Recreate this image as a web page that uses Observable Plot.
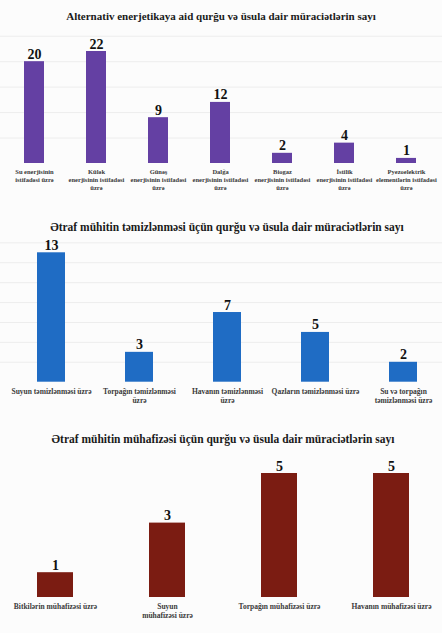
<!DOCTYPE html>
<html><head><meta charset="utf-8">
<script src="https://cdn.jsdelivr.net/npm/d3@7"></script>
<script src="https://cdn.jsdelivr.net/npm/@observablehq/plot@0.6"></script>
<style>
body{margin:0;background:#fff;}
#root{position:relative;width:442px;height:633px;overflow:hidden;font-family:"Times New Roman","Liberation Serif","DejaVu Serif",serif;background:#fcfcfc;}
.title{position:absolute;left:0;width:442px;text-align:center;font-weight:bold;color:#1a1a1a;white-space:nowrap;line-height:1;}
.chart{position:absolute;left:0;}
</style></head><body><div id="root"></div>
<script>
// Chart 1 data
const energyTitle = "Alternativ enerjetikaya aid  qurğu və üsula dair müraciətlərin sayı";
const energyCats = ["Su", "Külək", "Günəş", "Dalğa", "Biogaz", "İstilik", "Pyezoelektrik"];
const energyValues = [20, 22, 9, 12, 2, 4, 1];
const energyTicks = [
  "Su enerjisinin\nistifadəsi üzrə",
  "Külək\nenerjisinin istifadəsi\nüzrə",
  "Günəş\nenerjisinin istifadəsi\nüzrə",
  "Dalğa\nenerjisinin istifadəsi\nüzrə",
  "Biogaz\nenerjisinin istifadəsi\nüzrə",
  "İstilik\nenerjisinin istifadəsi\nüzrə",
  "Pyezoelektrik\nelementlərin istifadəsi\nüzrə"
];
// Chart 2 data
const cleanTitle = "Ətraf mühitin təmizlənməsi üçün qurğu və üsula dair müraciətlərin sayı";
const cleanCats = ["Suyun", "Torpağın", "Havanın", "Qazların", "Su və torpağın"];
const cleanValues = [13, 3, 7, 5, 2];
const cleanTicks = [
  "Suyun təmizlənməsi üzrə",
  "Torpağın təmizlənməsi\nüzrə",
  "Havanın təmizlənməsi\nüzrə",
  "Qazların təmizlənməsi üzrə",
  "Su və torpağın\ntəmizlənməsi üzrə"
];
// Chart 3 data
const protectTitle = "Ətraf mühitin mühafizəsi üçün qurğu və üsula dair müraciətlərin sayı";
const protectCats = ["Bitkilərin", "Suyun", "Torpağın", "Havanın"];
const protectValues = [1, 3, 5, 5];
const protectTicks = [
  "Bitkilərin mühafizəsi üzrə",
  "Suyun\nmühafizəsi üzrə",
  "Torpağın mühafizəsi üzrə",
  "Havanın mühafizəsi üzrə"
];

const FONT = "'Times New Roman', 'Liberation Serif', 'DejaVu Serif', serif";
const root = document.getElementById("root");

function addTitle(text, top, size, shift) {
  const d = document.createElement("div");
  d.className = "title";
  d.style.top = top + "px";
  d.style.left = (shift || 0) + "px";
  d.style.fontSize = size + "px";
  d.textContent = text;
  root.appendChild(d);
}

function addChart(o) {
  const data = o.cats.map((c, i) => ({cat: c, value: o.values[i], tick: o.ticks[i]}));
  const svg = Plot.plot({
    width: 442,
    height: o.height,
    margin: 0,
    style: {fontFamily: FONT, background: "transparent", overflow: "visible"},
    x: {domain: o.cats, range: o.xRange, paddingInner: 0.68, paddingOuter: 0.34, axis: null},
    y: {domain: [0, o.yMax], range: o.yRange, axis: null},
    marks: [
      o.grid ? Plot.gridY(o.grid, {stroke: "#ededed", strokeOpacity: 1}) : null,
      Plot.barY(data, {x: "cat", y: "value", fill: o.color}),
      Plot.text(data, {x: "cat", y: "value", text: d => String(d.value), dy: -3, lineAnchor: "bottom",
        fontSize: o.valueSize, fontWeight: "bold", fill: "#111", fontFamily: FONT}),
      Plot.text(data, {x: "cat", y: 0, text: "tick", dy: o.tickDy, lineAnchor: "top",
        fontSize: o.tickSize, fontWeight: "bold", fill: "#3a3a3a", lineHeight: o.lineHeight, fontFamily: FONT})
    ]
  });
  svg.classList.add("chart");
  svg.style.top = o.top + "px";
  root.appendChild(svg);
}

addTitle(energyTitle, 11, 11, 0);
addChart({cats: energyCats, values: energyValues, ticks: energyTicks, color: "#6440a3",
  top: 28, height: 172, yMax: 22, yRange: [135, 23], xRange: [0.6, 439.6],
  grid: [5, 10, 15, 20, 25], valueSize: 14, tickSize: 6.5, tickDy: 5, lineHeight: 1.23});

addTitle(cleanTitle, 222, 11.5, 6);
addChart({cats: cleanCats, values: cleanValues, ticks: cleanTicks, color: "#1f6cc4",
  top: 236, height: 180, yMax: 13, yRange: [145.7, 16.3], xRange: [7, 447],
  grid: [2, 4, 6, 8, 10, 12, 14], valueSize: 14, tickSize: 7.5, tickDy: 5, lineHeight: 1.2});

addTitle(protectTitle, 434, 11.5, 2);
addChart({cats: protectCats, values: protectValues, ticks: protectTicks, color: "#7b1c12",
  top: 448, height: 180, yMax: 5, yRange: [149, 25], xRange: [-1.5, 446.5],
  grid: null, valueSize: 14, tickSize: 7.5, tickDy: 5, lineHeight: 1.2});
</script></body></html>
